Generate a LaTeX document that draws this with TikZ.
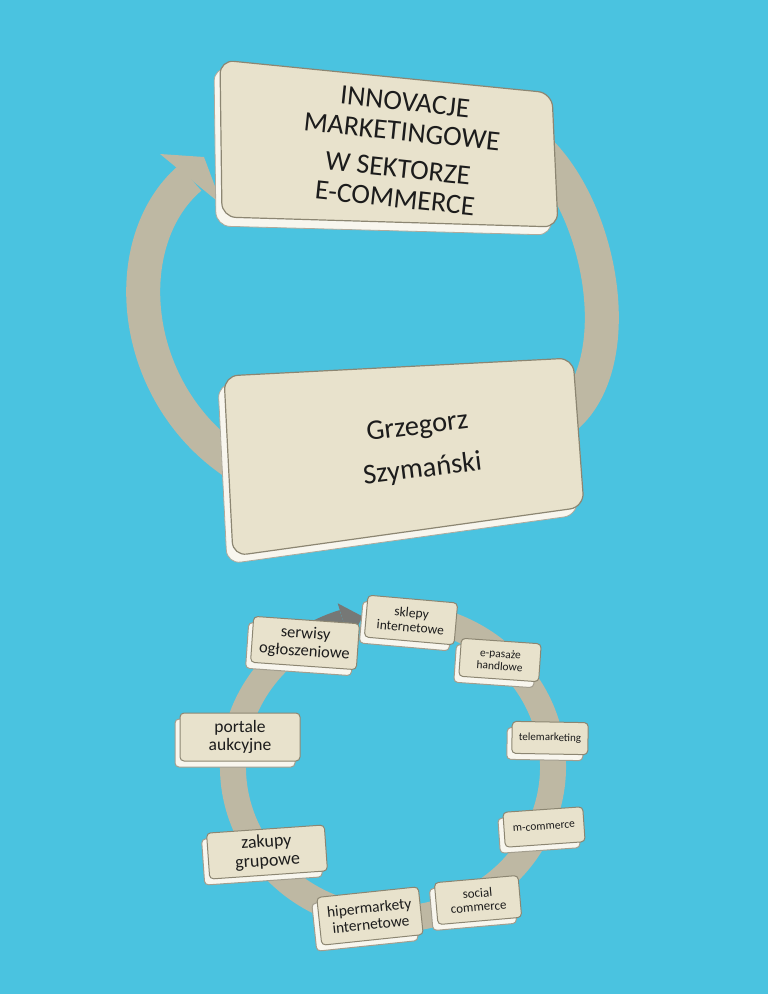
\documentclass[tikz,border=0pt]{standalone}
\usepackage{fontspec}
\setmainfont{Carlito}
\usetikzlibrary{shadows}
\definecolor{bg}{RGB}{74,195,224}
\definecolor{face}{RGB}{232,226,204}
\definecolor{rim}{RGB}{248,246,238}
\definecolor{edge}{RGB}{140,134,114}
\definecolor{ring}{RGB}{190,184,163}
\definecolor{ringdark}{RGB}{118,120,118}
\definecolor{txt}{RGB}{28,28,28}
\begin{document}
\begin{tikzpicture}[x=1pt,y=-1pt,
  bigface/.style={fill=face, draw=edge, line width=1.2pt, rounded corners=14pt},
  bigrim/.style={fill=rim, draw=edge!70, line width=0.8pt, rounded corners=14pt},
  ringline/.style={draw=ring, line width=34pt},
  lbl/.style 2 args={font=\fontsize{#1}{#2}\selectfont},
  smallbox/.style={rectangle, rounded corners=4pt, fill=face, draw=edge, line width=1pt,
    inner sep=2pt, align=center, text=txt,
    copy shadow={shadow xshift=-5pt, shadow yshift=-6pt, fill=rim, draw=edge!80}},
  bigtext/.style={align=center, text=txt},
]
\fill[bg] (0,0) rectangle (768,994);
\useasboundingbox (0,0) rectangle (768,994);

% ---------- top cycle ----------
\draw[ringline] (255,475) .. controls (130,410) and (112,245) .. (190,178);
\fill[ring] (160,154) -- (204,157) -- (222,205) -- cycle;
\draw[ringline] (520,135) .. controls (605,190) and (640,390) .. (545,430);

\path[bigrim] (214,67) -- (546,100) -- (552,235) -- (216,226) -- cycle;
\path[bigface] (220,60) -- (552,93) -- (558,227) -- (222,217) -- cycle;
\node[bigtext, font=\fontsize{28}{30}\selectfont, rotate=-6] (title) at (400,150)
  {INNOVACJE\\MARKETINGOWE\\[7pt]W SEKTORZE\\E-COMMERCE};

\path[bigrim] (218,384) -- (567,366) -- (578,515) -- (227,564) -- cycle;
\path[bigface] (224,376) -- (573,358) -- (584,507) -- (233,556) -- cycle;
\node[bigtext, font=\fontsize{28.5}{43}\selectfont, rotate=7] (author) at (420,449)
  {Grzegorz\\Szymański};

% ---------- bottom cycle ----------
\draw[ringline, line width=26pt] (393,767) ++(-75:160 and 152)
  arc[start angle=-75, end angle=235, x radius=160, y radius=152];
\draw[draw=ringdark, line width=26pt] (393,767) ++(235:160 and 152)
  arc[start angle=235, end angle=252, x radius=160, y radius=152];
\fill[ringdark] (337.7,603.3) -- (362.7,616.5) -- (349.5,641.5) -- cycle;

\node[smallbox, lbl={16.5}{17.8}, minimum width=106pt, minimum height=46pt, rotate=-4] (serwisy) at (305,643) {serwisy\\ogłoszeniowe};
\node[smallbox, lbl={13.5}{14.6}, minimum width=90pt, minimum height=42pt, rotate=-5] (sklepy) at (411,620) {sklepy\\internetowe};
\node[smallbox, lbl={11.5}{12.4}, minimum width=80pt, minimum height=38pt, rotate=-4] (epasaze) at (500,660) {e-pasaże\\handlowe};
\node[smallbox, lbl={11}{12}, minimum width=76pt, minimum height=32pt, rotate=-1] (tele) at (550,738) {telemarketing};
\node[smallbox, lbl={11.5}{12.4}, minimum width=80pt, minimum height=35pt, rotate=4] (mcom) at (544,827) {m-commerce};
\node[smallbox, lbl={13}{14}, minimum width=84pt, minimum height=42pt, rotate=5] (social) at (478,900) {social\\commerce};
\node[smallbox, lbl={15.5}{16.7}, minimum width=102pt, minimum height=48pt, rotate=6] (hiper) at (370,916) {hipermarkety\\internetowe};
\node[smallbox, lbl={18}{19}, minimum width=118pt, minimum height=46pt, rotate=4] (zakupy) at (267,852) {zakupy\\grupowe};
\node[smallbox, lbl={17.5}{18.5}, minimum width=120pt, minimum height=48pt, rotate=0] (portale) at (240,737) {portale\\aukcyjne};
\end{tikzpicture}
\end{document}
